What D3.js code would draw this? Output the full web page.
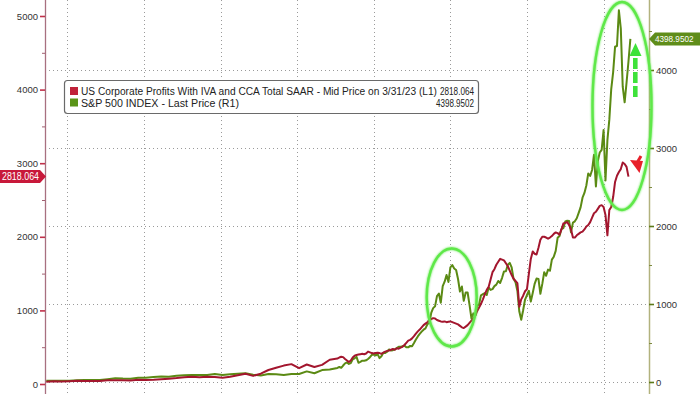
<!DOCTYPE html>
<html><head><meta charset="utf-8">
<script src="https://cdn.jsdelivr.net/npm/d3@7"></script>
<style>body{margin:0;background:#fff}svg{display:block}</style>
</head><body><svg id="c" width="700" height="394"></svg>
<script>
// ---------- DATA ----------
const annualStartYear = 1947;   // one point per year (Q1) 1947..1984
const spAnnual = [15.2,15.1,15.1,17.3,21.5,24.4,25.3,26.9,36.6,48.5,44.1,42.1,55.4,55.3,65.1,69.6,66.6,78.9,86.2,89.2,90.2,90.2,101.5,89.6,100.3,107.2,111.5,94.0,83.4,102.8,98.4,89.2,101.6,102.1,136.0,112.0,153.0,159.2];
const profitsAnnual = [30,36,33,38,44,42,42,41,52,51,50,46,58,56,58,66,72,80,92,97,92,100,96,86,98,118,140,110,140,190,220,250,270,215,265,230,260,330];

const quarterlyStartYear = 1985; // quarter-end points from 1985 Q1
const spQuarterly = [
180.7,191.9,182.1,211.3, 238.9,250.8,231.3,242.2, 291.7,304.0,321.8,247.1, 258.9,273.5,271.9,277.7,
294.9,318.0,349.2,353.4, 339.9,358.0,306.1,330.2, 375.2,371.2,387.9,417.1, 403.7,408.1,417.8,435.7,
451.7,450.5,458.9,466.5, 445.8,444.3,462.7,459.3, 500.7,544.8,584.4,615.9, 645.5,670.6,687.3,740.7,
757.1,885.1,947.3,970.4, 1101.8,1133.8,1017.0,1229.2, 1286.4,1372.7,1282.7,1469.3, 1498.6,1454.6,1436.5,1320.3,
1160.3,1224.4,1040.9,1148.1, 1147.4,989.8,815.3,879.8, 848.2,974.5,996.0,1111.9, 1126.2,1140.8,1114.6,1211.9,
1180.6,1191.3,1228.8,1248.3, 1294.8,1270.2,1335.9,1418.3, 1420.9,1503.4,1526.8,1468.4, 1322.7,1280.0,1166.4,903.3,
797.9,919.3,1057.1,1115.1, 1169.4,1030.7,1141.2,1257.6, 1325.8,1320.6,1131.4,1257.6, 1408.5,1362.2,1440.7,1426.2,
1569.2,1606.3,1681.6,1848.4, 1872.3,1960.2,1972.3,2058.9, 2067.9,2063.1,1920.0,2043.9, 2059.7,2098.9,2168.3,2238.8,
2362.7,2423.4,2519.4,2673.6, 2640.9,2718.4,2914.0,2506.9, 2834.4,2941.8,2976.7,3230.8, 2584.6,3100.3,3363.0,3756.1,
3972.9,4297.5,4307.5,4766.2, 4530.4,3785.4,3585.6,3839.5, 4109.3,4398.95];
const profitsQuarterly = [
345,360,370,365, 340,320,300,320, 360,385,395,400, 405,410,405,415,
440,430,420,415, 420,425,420,410, 425,440,450,455, 465,475,465,485,
480,495,505,530, 560,590,600,620, 650,685,715,740, 770,800,820,840,
870,880,895,890, 870,860,850,845, 850,840,845,850, 840,830,820,810,
790,770,760,780, 800,830,860,890, 930,990,1040,1090, 1150,1220,1280,1320,
1420,1520,1560,1620, 1660,1700,1690,1680, 1640,1600,1540,1480, 1430,1400,1370,1050,
1150,1200,1260,1290, 1500,1700,1800,1770, 1760,1850,1960,2000, 2000,1990,1975,1990,
2010,2040,2060,2050, 2030,2100,2180,2190, 2200,2160,2100,1990, 1990,2020,2040,2060,
2070,2100,2140,2160, 2200,2260,2320,2340, 2380,2420,2430,2405, 2296,2020,2364,2405,
2540,2745,2830,2880, 2920,3010,2990,2950, 2818.064];

const leftTicks = [0,1000,2000,3000,4000,5000];
const leftMinor = [500,1500,2500,3500,4500];
const rightTicks = [0,1000,2000,3000,4000];
const rightMinor = [500,1500,2500,3500,4500];
const gridYears = [1950,1960,1970,1980,1990,2000,2010,2020];
const legendNames = ["US Corporate Profits With IVA and CCA Total SAAR - Mid Price on 3/31/23 (L1)", "S&P 500 INDEX - Last Price (R1)"];
const lastValues = ["2818.064", "4398.9502"];
const lastNumbers = [2818.064, 4398.9502];

// ---------- BUILD SERIES ----------
function build(annual, quarterly){
  const out = annual.map((v,i)=>({t: annualStartYear + i + 0.25, v}));
  quarterly.forEach((v,i)=> out.push({t: quarterlyStartYear + (i+1)*0.25, v}));
  return out;
}
const spSeries = build(spAnnual, spQuarterly);
const profitSeries = build(profitsAnnual, profitsQuarterly);

// ---------- LAYOUT ----------
const svg = d3.select("#c");
const L = 45, R = 649, W = 700, H = 394;
const x = d3.scaleLinear().domain([1947.08, 2025.93]).range([L, R]);
const yL = d3.scaleLinear().domain([0, 5000]).range([384, 16]);
const yR = d3.scaleLinear().domain([0, 4000]).range([382, 70]);
const font = "'Liberation Sans', Arial, sans-serif";

// gridlines
const grid = svg.append("g").attr("stroke", "#9a9a9a").attr("stroke-width", 1).attr("stroke-dasharray", "1,3");
grid.selectAll("line.h").data(rightTicks).join("line").attr("class","h")
  .attr("x1", L).attr("x2", R).attr("y1", d=>Math.round(yR(d))+0.5).attr("y2", d=>Math.round(yR(d))+0.5);
grid.selectAll("line.v").data(gridYears).join("line").attr("class","v")
  .attr("x1", d=>Math.round(x(d))+0.5).attr("x2", d=>Math.round(x(d))+0.5).attr("y1", 0).attr("y2", H);

// axis lines
svg.append("line").attr("x1", L+0.5).attr("x2", L+0.5).attr("y1", 0).attr("y2", H).attr("stroke", "#a87080").attr("stroke-width", 1.3);
svg.append("line").attr("x1", R+0.5).attr("x2", R+0.5).attr("y1", 0).attr("y2", H).attr("stroke", "#b2b27e").attr("stroke-width", 1.5);

// left axis
const gL = svg.append("g").attr("transform", `translate(${L},0)`)
  .call(d3.axisLeft(yL).tickValues(leftTicks).tickSize(5).tickPadding(2).tickFormat(d3.format("d")));
gL.select(".domain").remove();
gL.selectAll(".tick line").attr("stroke", "#c0304a").attr("stroke-width", 1.6);
gL.selectAll(".tick text").attr("fill", "#333").style("font", `9.5px ${font}`);
const gLm = svg.append("g").attr("transform", `translate(${L},0)`)
  .call(d3.axisLeft(yL).tickValues(leftMinor).tickSize(3).tickFormat(""));
gLm.select(".domain").remove();
gLm.selectAll(".tick line").attr("stroke", "#a06070");

// right axis
const gR = svg.append("g").attr("transform", `translate(${R},0)`)
  .call(d3.axisRight(yR).tickValues(rightTicks).tickSize(5).tickPadding(2).tickFormat(d3.format("d")));
gR.select(".domain").remove();
gR.selectAll(".tick line").attr("stroke", "#5d7a18").attr("stroke-width", 1.6);
gR.selectAll(".tick text").attr("fill", "#333").style("font", `9.5px ${font}`);
const gRm = svg.append("g").attr("transform", `translate(${R},0)`)
  .call(d3.axisRight(yR).tickValues(rightMinor).tickSize(3).tickFormat(""));
gRm.select(".domain").remove();
gRm.selectAll(".tick line").attr("stroke", "#7d8a40");

// lines
const lineR = d3.line().x(d=>x(d.t)).y(d=>yR(d.v));
const lineL = d3.line().x(d=>x(d.t)).y(d=>yL(d.v));
svg.append("path").datum(spSeries).attr("d", lineR).attr("fill","none").attr("stroke","#5b8a14").attr("stroke-width",2).attr("stroke-linejoin","round");
svg.append("path").datum(profitSeries).attr("d", lineL).attr("fill","none").attr("stroke","#a3162e").attr("stroke-width",2).attr("stroke-linejoin","round");

// legend
const lg = svg.append("g");
lg.append("rect").attr("x", 64.5).attr("y", 80.5).attr("width", 414).attr("height", 33).attr("rx", 3)
  .attr("fill", "#fff").attr("stroke", "#6a6a6a").attr("stroke-width", 1.2);
const swCol = ["#c0223a", "#5a9418"];
const rowY = [95, 106.5];
const nameLen = [356, 158];
legendNames.forEach((n,i)=>{
  lg.append("rect").attr("x", 70).attr("y", rowY[i]-8).attr("width", 8).attr("height", 8).attr("fill", swCol[i]);
  lg.append("text").attr("x", 81).attr("y", rowY[i]).attr("fill", "#222").style("font", `10px ${font}`)
    .attr("textLength", nameLen[i]).attr("lengthAdjust", "spacingAndGlyphs").text(n);
  lg.append("text").attr("x", 474).attr("y", rowY[i]).attr("text-anchor", "end").attr("fill", "#222").style("font", `10px ${font}`)
    .attr("textLength", i===0?34:38).attr("lengthAdjust", "spacingAndGlyphs").text(lastValues[i]);
});

// last value tags
const ty1 = yL(lastNumbers[0]);
svg.append("path").attr("d", `M0,${ty1-6.5} L40,${ty1-6.5} L46,${ty1} L40,${ty1+6.5} L0,${ty1+6.5} Z`).attr("fill", "#c8183a");
svg.append("text").attr("x", 2).attr("y", ty1+3.5).attr("fill", "#fff").style("font", `10px ${font}`)
  .attr("textLength", 37).attr("lengthAdjust", "spacingAndGlyphs").text(lastValues[0]);
const ty2 = yR(lastNumbers[1]);
svg.append("path").attr("d", `M${R},${ty2} L${R+6},${ty2-6.5} L${W},${ty2-6.5} L${W},${ty2+6.5} L${R+6},${ty2+6.5} Z`).attr("fill", "#5f8d1a");
svg.append("text").attr("x", R+6).attr("y", ty2+3.5).attr("fill", "#fff").style("font", `9.5px ${font}`)
  .attr("textLength", 38.5).attr("lengthAdjust", "spacingAndGlyphs").text(lastValues[1]);

// annotations
const defs = svg.append("defs");
const f = defs.append("filter").attr("id","glow").attr("x","-20%").attr("y","-20%").attr("width","140%").attr("height","140%");
f.append("feGaussianBlur").attr("stdDeviation", 1.2).attr("result","b");
const fm = f.append("feMerge"); fm.append("feMergeNode").attr("in","b"); fm.append("feMergeNode").attr("in","SourceGraphic");
const ann = svg.append("g").attr("fill","none").attr("stroke","#5fe84a").attr("stroke-width",2.4).attr("filter","url(#glow)");
ann.append("ellipse").attr("cx", 451.7).attr("cy", 297.5).attr("rx", 25).attr("ry", 49);
ann.append("ellipse").attr("cx", 622).attr("cy", 106).attr("rx", 29.5).attr("ry", 104);
// dashed green arrow
svg.append("line").attr("x1", 635.3).attr("x2", 635.3).attr("y1", 97).attr("y2", 56)
  .attr("stroke", "#3ee23a").attr("stroke-width", 4.6).attr("stroke-dasharray", "11,3");
svg.append("path").attr("d", "M635.5,43 L641.5,56 L629.5,56 Z").attr("fill", "#3ee23a");
// red arrow
svg.append("path").attr("d", "M641,156 L637.5,162").attr("stroke", "#e8202a").attr("stroke-width", 3);
svg.append("path").attr("d", "M630,160 L643,161 L639.5,173 Z").attr("fill", "#e8202a");
</script></body></html>
